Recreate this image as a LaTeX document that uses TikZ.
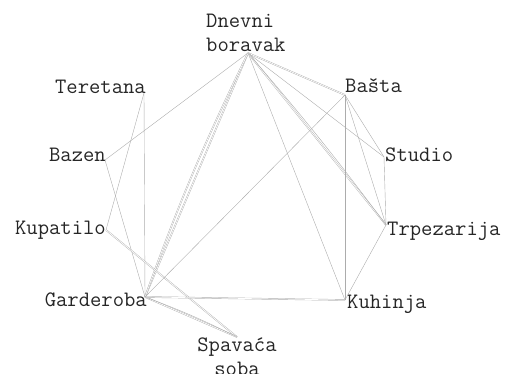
\documentclass[tikz,border=0pt]{standalone}
\usepackage{fontspec}
\usepackage{tikz}
\usetikzlibrary{positioning,calc}
\tikzset{
  room/label/.style={inner sep=0pt, font=\ttfamily\fontsize{22}{24}\selectfont, text=black!85},
  room/link/.style={draw=gray!65, line width=0.4pt},
  room/multi/.style={room/link, double=white, double distance=0.7pt}
}

\begin{document}
\begin{tikzpicture}[x=1pt, y=-1pt]
  \useasboundingbox (0,0) rectangle (508,374);

  % Points on the ring
  \coordinate (din) at (248,53);
  \coordinate (bas) at (345,95);
  \coordinate (stu) at (384,157);
  \coordinate (trp) at (386,225);
  \coordinate (kuh) at (345,300);
  \coordinate (spa) at (237,337);
  \coordinate (gar) at (145,297);
  \coordinate (kup) at (106,230);
  \coordinate (baz) at (105,160);
  \coordinate (ter) at (144,93);

  % Room names
  \node[room/label, align=left, anchor=south west] (din-l) at (206,52) {Dnevni\\boravak};
  \node[room/label, anchor=base west] (bas-l) at (345,93) {Bašta};
  \node[room/label, anchor=base west] (stu-l) at (385,162) {Studio};
  \node[room/label, anchor=base west] (trp-l) at (387,235) {Trpezarija};
  \node[room/label, anchor=base west] (kuh-l) at (347,308) {Kuhinja};
  \node[room/label, align=center, anchor=north] (spa-l) at (237,338) {Spavaća\\soba};
  \node[room/label, anchor=base east] (gar-l) at (147,306) {Garderoba};
  \node[room/label, anchor=base east] (kup-l) at (106,234) {Kupatilo};
  \node[room/label, anchor=base east] (baz-l) at (106,161) {Bazen};
  \node[room/label, anchor=base east] (ter-l) at (146,94) {Teretana};

  % Links from the living room
  \draw[room/link] (din) -- (baz);
  \draw[room/multi] (din) -- (gar);
  \draw[room/multi] (din) to[bend right=3] (gar);
  \draw[room/link] (din) -- (kuh);
  \draw[room/multi] (din) -- (bas);
  \draw[room/link] (din) -- (stu);
  \draw[room/multi] (din) -- (trp);
  \draw[room/link] (din) to[bend left=2] (trp);

  % Left side
  \draw[room/link] (ter) -- (gar);
  \draw[room/link] (ter) -- (kup);
  \draw[room/link] (baz) -- (gar);
  \draw[room/multi] (kup) -- (spa);
  \draw[room/multi] (gar) -- (spa);
  \draw[room/link] (gar) to[bend left=3] (spa);
  \draw[room/multi] (gar) -- (kuh);
  \draw[room/link] (gar) -- (bas);

  % Right side
  \draw[room/link] (bas) -- (kuh);
  \draw[room/link] (bas) -- (stu);
  \draw[room/link] (bas) -- (trp);
  \draw[room/link] (stu) -- (trp);
  \draw[room/link] (trp) -- (kuh);
\end{tikzpicture}
\end{document}
